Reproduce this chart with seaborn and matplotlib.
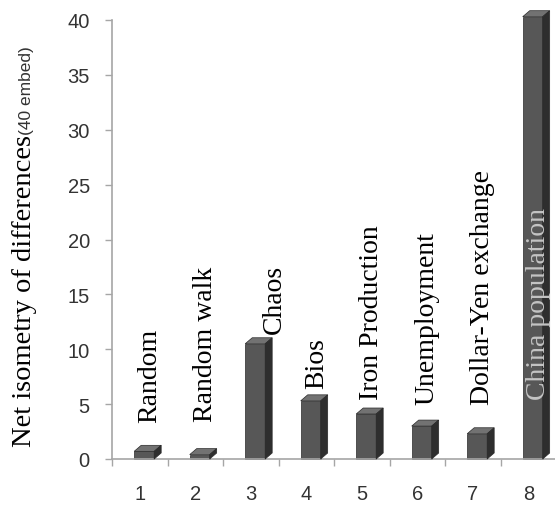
""" Net isometry of differences for eight time series (3D-style bar chart) """

import matplotlib
matplotlib.use("Agg")
import matplotlib.pyplot as plt
from matplotlib.patches import Polygon
import pandas as pd
import seaborn as sns

# data
positions = [1, 2, 3, 4, 5, 6, 7, 8]
series_names = ["Random", "Random walk", "Chaos", "Bios", "Iron Production",
                "Unemployment", "Dollar-Yen exchange", "China population"]
isometry = [0.7, 0.4, 10.5, 5.3, 4.1, 3.0, 2.3, 40.3]
y_ticks = [0, 5, 10, 15, 20, 25, 30, 35, 40]

# layout of the rotated name labels (bottom of each label, data units)
label_base = [3.4, 3.5, 11.5, 6.5, 5.5, 5.0, 5.0, 5.5]

FRONT = "#575757"
SIDE = "#2e2e2e"
TOP = "#727272"
AXIS = "#a6a6a6"


def add_depth(ax, patch, dx, dy):
    """ Draw the top and side faces that give a bar its 3D look """
    x0, w, h = patch.get_x(), patch.get_width(), patch.get_height()
    top = [(x0, h), (x0 + w, h), (x0 + w + dx, h + dy), (x0 + dx, h + dy)]
    side = [(x0 + w, 0), (x0 + w + dx, dy), (x0 + w + dx, h + dy), (x0 + w, h)]
    for verts, col in ((top, TOP), (side, SIDE)):
        ax.add_patch(Polygon(verts, closed=True, facecolor=col,
                             edgecolor="#2a2a2a", linewidth=0.5, clip_on=False,
                             zorder=3))


def main():
    sns.set_style("white")
    plt.rcParams["font.family"] = ["Liberation Sans", "DejaVu Sans"]

    df = pd.DataFrame({"pos": positions, "value": isometry, "name": series_names})

    fig = plt.figure(figsize=(5.55, 5.06), dpi=100)
    ax = fig.add_axes([112 / 555, 46 / 506, 444 / 555, 439 / 506])

    sns.barplot(data=df, x="pos", y="value", native_scale=True, width=0.36,
                color=FRONT, saturation=1, edgecolor="#2a2a2a", linewidth=0.5,
                ax=ax, zorder=2)

    ax.set_xlim(0.5, 8.5)
    ax.set_ylim(0, 40)

    # pixel depth of the bars converted to data units
    px_per_x = ax.get_position().width * fig.get_figwidth() * fig.dpi / 8
    px_per_y = ax.get_position().height * fig.get_figheight() * fig.dpi / 40
    dx, dy = 7 / px_per_x, 6 / px_per_y

    for patch in ax.patches[:len(isometry)]:
        patch.set_x(patch.get_x() + 0.08)
        patch.set_clip_on(False)
    for patch in list(ax.patches[:len(isometry)]):
        add_depth(ax, patch, dx, dy)

    # rotated series names
    for pos, name, base in zip(positions, series_names, label_base):
        inside = name == "China population"
        shift = 0.42 if name == "Chaos" else 0.18
        ax.text(pos + shift, base, name, rotation=90, ha="center", va="bottom",
                family=["Liberation Serif", "DejaVu Serif"], fontsize=20,
                color="#c4c4c4" if inside else "black", zorder=5)

    # axes styling
    for side in ("top", "right"):
        ax.spines[side].set_visible(False)
    for side in ("left", "bottom"):
        ax.spines[side].set_color(AXIS)
        ax.spines[side].set_linewidth(1.2)

    ax.set_yticks(y_ticks)
    ax.set_xticks(positions)
    ax.set_xticks([p + 0.5 for p in [0] + positions], minor=True)
    ax.tick_params(axis="y", which="major", direction="out", length=5,
                   width=1, color=AXIS, labelsize=14.5, labelcolor="#333333",
                   pad=11, left=True)
    ax.tick_params(axis="x", which="major", length=0, labelsize=14.5,
                   labelcolor="#333333", pad=18)
    ax.tick_params(axis="x", which="minor", direction="out", length=5,
                   width=1, color=AXIS, bottom=True)
    ax.set_xlabel("")
    ax.set_ylabel("")

    # y axis title: serif part followed by smaller sans part
    main_txt = fig.text(25 / 555, 59 / 506, "Net isometry of differences",
                        rotation=90, ha="center", va="bottom",
                        family=["Liberation Serif", "DejaVu Serif"],
                        fontsize=20.5, color="black")
    fig.canvas.draw()
    bbox = main_txt.get_window_extent().transformed(fig.transFigure.inverted())
    fig.text(26 / 555, bbox.y1, "(40 embed)", rotation=90, ha="center",
             va="bottom", fontsize=12.5, color="#333333")

    fig.savefig("out.png", dpi=100)


if __name__ == "__main__":
    main()
